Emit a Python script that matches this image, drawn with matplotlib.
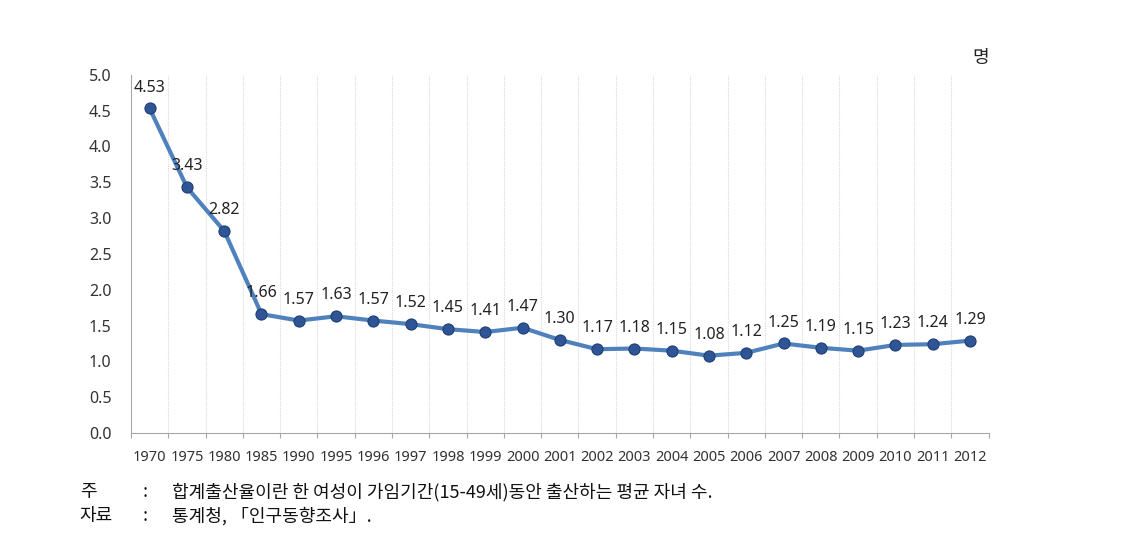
import matplotlib
matplotlib.use("Agg")
import matplotlib.pyplot as plt
import numpy as np

plt.rcParams['font.family'] = ['Noto Sans CJK KR', 'DejaVu Sans']

years = ["1970", "1975", "1980", "1985", "1990", "1995", "1996", "1997", "1998", "1999",
         "2000", "2001", "2002", "2003", "2004", "2005", "2006", "2007", "2008", "2009",
         "2010", "2011", "2012"]
values = [4.53, 3.43, 2.82, 1.66, 1.57, 1.63, 1.57, 1.52, 1.45, 1.41,
          1.47, 1.30, 1.17, 1.18, 1.15, 1.08, 1.12, 1.25, 1.19, 1.15,
          1.23, 1.24, 1.29]
yticks = [0.0, 0.5, 1.0, 1.5, 2.0, 2.5, 3.0, 3.5, 4.0, 4.5, 5.0]
unit = "명"
note1_head = "주"
note1_text = "합계출산율이란 한 여성이 가임기간(15-49세)동안 출산하는 평균 자녀 수."
note2_head = "자료"
note2_text = "통계청, 「인구동향조사」."

fig = plt.figure(figsize=(11.39, 5.34), dpi=100)
ax = fig.add_axes([0.115, 0.189, 0.753, 0.671])

x = np.arange(len(years))
ax.plot(x, values, color='#4f81bd', lw=3, zorder=3, solid_capstyle='round')
ax.plot(x, values, 'o', color='#2f5597', markersize=8, markeredgecolor='#1f3f73',
        markeredgewidth=0.8, zorder=4)

for xi, v in zip(x, values):
    ax.text(xi, v + 0.18, f"{v:.2f}", ha='center', va='bottom', fontsize=11.5,
            color='#222222', family=['Noto Sans', 'DejaVu Sans'])

ax.set_xlim(-0.5, len(years) - 0.5)
ax.set_ylim(0, 5.0)
ax.set_yticks(yticks)
ax.set_yticklabels([f"{t:.1f}" for t in yticks], fontsize=11.5,
                   color='#333333', family=['Noto Sans', 'DejaVu Sans'])
ax.set_xticks(x)
ax.set_xticklabels(years, fontsize=10.5, color='#333333',
                   family=['Noto Sans', 'DejaVu Sans'])
ax.tick_params(axis='y', length=0, pad=14)
ax.tick_params(axis='x', length=0, pad=12)

# vertical dotted gridlines at category boundaries
for b in np.arange(0.5, len(years) - 0.5, 1):
    ax.axvline(b, color='#d9d9d9', lw=0.8, ls=(0, (1, 1)), zorder=1)
# tick marks on bottom axis at boundaries
ax.vlines(np.arange(-0.5, len(years) + 0.5, 1), 0, -0.07, color='#a6a6a6', lw=0.8,
          clip_on=False)

for side in ['top', 'right']:
    ax.spines[side].set_visible(False)
ax.spines['left'].set_color('#a6a6a6')
ax.spines['bottom'].set_color('#a6a6a6')

fig.text(0.868, 0.875, unit, ha='right', va='bottom', fontsize=13, color='#222222')

fs = 13
fig.text(0.070, 0.078, note1_head, ha='left', va='center', fontsize=fs, color='#111111')
fig.text(0.125, 0.078, ":", ha='left', va='center', fontsize=fs, color='#111111')
fig.text(0.151, 0.078, note1_text, ha='left', va='center', fontsize=fs, color='#111111')
fig.text(0.070, 0.033, note2_head, ha='left', va='center', fontsize=fs, color='#111111')
fig.text(0.125, 0.033, ":", ha='left', va='center', fontsize=fs, color='#111111')
fig.text(0.151, 0.033, note2_text, ha='left', va='center', fontsize=fs, color='#111111')

fig.savefig("out.png", dpi=100)
